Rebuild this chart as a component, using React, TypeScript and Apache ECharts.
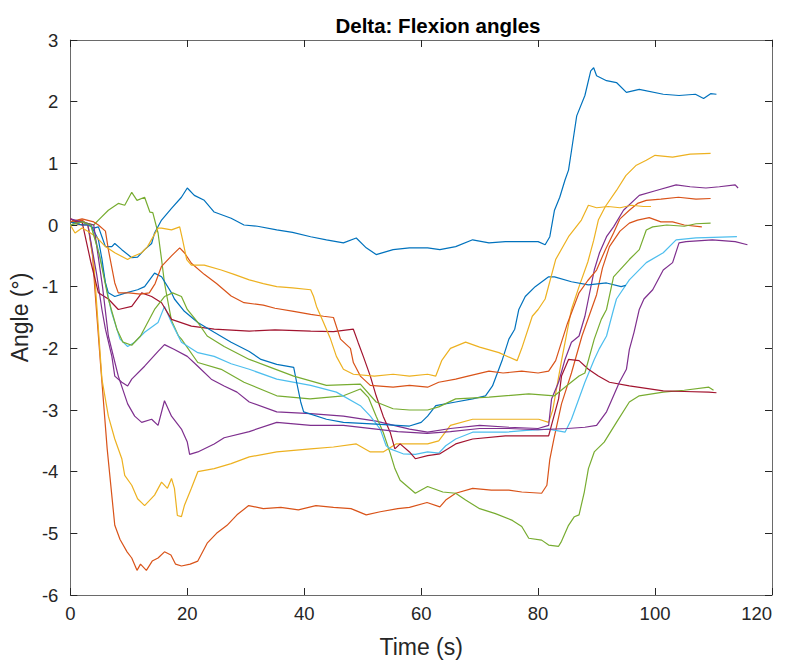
import React, { useEffect, useRef } from "react";
import * as echarts from "echarts";

const titleText = "Delta: Flexion angles";
const xAxisLabel = "Time (s)";
const yAxisLabel = "Angle (°)";
const xMin = 0, xMax = 120, xStep = 20;
const yMin = -6, yMax = 3, yStep = 1;

const blue1: number[][] = [[0,0.05],[1,0.02],[2,0.05],[3,0],[4,-0.05],[4.8,-0.03],[5.4,-0.19],[6,-0.35],[7.1,-0.35],[7.6,-0.3],[8.8,-0.4],[10.5,-0.53],[11.5,-0.52],[12.7,-0.4],[13.9,-0.3],[14.4,-0.13],[15.6,0.08],[17.3,0.27],[19,0.45],[20,0.6],[21.2,0.48],[22.9,0.4],[24.6,0.21],[27.5,0.11],[29.7,0.0],[32,-0.02],[35.3,-0.08],[38,-0.12],[41.1,-0.19],[43.8,-0.24],[46.7,-0.29],[48.9,-0.21],[50.6,-0.37],[52.3,-0.48],[55.2,-0.4],[58,-0.37],[61.1,-0.37],[63.2,-0.4],[65.9,-0.35],[68.8,-0.24],[71.6,-0.29],[74.4,-0.27],[77.2,-0.27],[80,-0.27],[81.2,-0.32],[82,-0.19],[82.8,0.24],[83.7,0.45],[84.6,0.73],[85.2,0.89],[85.7,1.2],[86.6,1.77],[88,2.1],[89,2.5],[89.5,2.55],[90,2.42],[91.7,2.34],[93.4,2.31],[95.1,2.15],[97.3,2.2],[101.4,2.12],[104.1,2.1],[106.9,2.12],[108.3,2.05],[109.5,2.13],[110.5,2.12]];

const orange1: number[][] = [[0,0.1],[1,0.05],[2,0.08],[3,0],[3.8,-0.5],[4.2,-1.05],[5.2,-2.3],[6.3,-3.63],[7.6,-4.87],[8.5,-5.1],[9.7,-5.3],[10.5,-5.4],[11.4,-5.6],[12,-5.5],[13,-5.6],[14,-5.45],[15,-5.4],[16.1,-5.3],[17.2,-5.35],[18,-5.5],[19,-5.53],[20.5,-5.5],[21.8,-5.45],[23.4,-5.16],[25,-5.0],[26.8,-4.87],[28.5,-4.7],[30.5,-4.55],[33,-4.6],[36,-4.58],[39,-4.62],[42,-4.55],[45,-4.58],[48,-4.6],[50.6,-4.7],[53,-4.65],[56,-4.6],[58,-4.58],[61,-4.5],[63.2,-4.57],[64.2,-4.46],[65.9,-4.35],[68.8,-4.27],[72,-4.3],[75,-4.3],[77.2,-4.33],[80.6,-4.35],[81.5,-4.22],[82,-3.8],[82.7,-3.47],[84,-2.9],[85.7,-2.4],[87.5,-1.8],[90,-1.13],[91,-0.7],[92.2,-0.35],[94,-0.1],[95.6,0.03],[97,0.08],[99,0.12],[101,0.05],[103,0.05],[105,0.0],[108,-0.03]];

const yellowB: number[][] = [[0,0.05],[1.5,0],[3,0.02],[4,-0.6],[5.4,-2.5],[6.5,-3.1],[7.6,-3.47],[8.8,-3.79],[9.3,-4.06],[10.5,-4.22],[11.5,-4.44],[12.7,-4.55],[14.4,-4.38],[15.6,-4.17],[16.6,-4.27],[17.3,-4.11],[17.8,-4.27],[18.3,-4.71],[19,-4.73],[19.5,-4.55],[20.7,-4.27],[21.8,-4.0],[24.6,-3.95],[27.5,-3.87],[30.6,-3.76],[35.3,-3.68],[41.1,-3.63],[45,-3.6],[48.9,-3.55],[51.3,-3.68],[53.5,-3.68],[55.7,-3.55],[61.1,-3.55],[63,-3.5],[65,-3.25],[68.8,-3.15],[74.4,-3.15],[80.1,-3.15],[81.8,-3.2],[82.5,-3.0],[84,-2.2],[85.7,-1.37],[87,-1.0],[88.5,-0.6],[89.5,-0.25],[90.3,0.08],[91.5,0.3],[93.4,0.56],[95,0.8],[96.8,0.97],[98.5,1.05],[100,1.13],[103,1.1],[106,1.15],[109.5,1.16]];

const purpleA: number[][] = [[0,0.05],[2,0.0],[3,0.0],[4.5,-0.8],[5.4,-1.37],[6,-1.69],[7.1,-2.13],[7.6,-2.45],[8.8,-2.55],[9.8,-2.61],[10.5,-2.5],[12.7,-2.29],[15,-2.05],[16.1,-1.94],[17.8,-2.02],[20,-2.13],[21.8,-2.29],[24.1,-2.5],[26.3,-2.61],[28.5,-2.71],[30.6,-2.87],[35.3,-3.03],[41.1,-3.06],[46.7,-3.1],[52.3,-3.18],[58,-3.31],[61.1,-3.36],[65,-3.3],[70,-3.25],[75,-3.28],[80,-3.3],[81.8,-3.25],[82.3,-2.82],[83.5,-2.55],[84.6,-2.18],[85.7,-1.9],[87,-1.8],[88,-1.48],[88.6,-1.2],[89.6,-0.73],[90.5,-0.45],[91.7,-0.19],[92.9,-0.03],[94.6,0.24],[97.3,0.48],[100.2,0.56],[103.6,0.65],[106,0.62],[108.7,0.6],[111,0.62],[113.7,0.65],[114.2,0.6]];

const greenA: number[][] = [[0,0.05],[2,0.05],[4,0.0],[4.8,0.08],[6.5,0.24],[8.2,0.35],[9.3,0.32],[10.5,0.53],[11.4,0.4],[12.7,0.45],[13.6,0.21],[14.1,0.2],[15,-0.13],[15.6,-0.56],[16.1,-0.94],[16.6,-1.2],[17.3,-1.55],[18.5,-1.8],[19,-1.85],[21.8,-2.23],[25.8,-2.34],[29.7,-2.55],[35.3,-2.77],[41,-2.82],[46.7,-2.77],[49.6,-2.66],[51,-2.8],[52.3,-3.1],[53.5,-3.36],[54.7,-3.7],[55.5,-3.95],[56.4,-4.14],[58,-4.27],[59,-4.35],[61.1,-4.24],[63.7,-4.33],[65.9,-4.35],[67.6,-4.46],[70,-4.6],[72.7,-4.68],[75.6,-4.79],[77.2,-4.89],[78.4,-5.08],[80.6,-5.11],[81.8,-5.19],[83.5,-5.21],[84,-5.13],[85.2,-4.87],[86.2,-4.73],[87,-4.7],[87.9,-4.33],[88.6,-3.95],[89.6,-3.68],[91.3,-3.52],[93.4,-3.2],[95.6,-2.87],[97.3,-2.77],[101.4,-2.71],[105,-2.68],[109.2,-2.63],[110,-2.68]];

const lightBlue: number[][] = [[0,0.0],[2,0.05],[3.5,0.0],[4.5,-0.3],[5.5,-0.7],[7,-1.4],[8.5,-1.85],[9.8,-1.97],[11,-1.9],[12.7,-1.74],[15,-1.58],[16.1,-1.32],[17.3,-1.58],[19,-1.9],[21.8,-2.07],[24.6,-2.13],[27.5,-2.25],[30.6,-2.34],[35.3,-2.5],[41.1,-2.6],[45.5,-2.71],[49.6,-2.93],[51.3,-3.1],[53,-3.31],[54,-3.58],[54.7,-3.63],[56.9,-3.71],[59,-3.72],[61.1,-3.68],[63,-3.7],[64.2,-3.58],[65.9,-3.47],[68.8,-3.36],[74.4,-3.36],[78,-3.33],[81.8,-3.31],[84.6,-3.36],[85.7,-3.15],[88,-2.55],[89.6,-2.18],[90.5,-2.0],[91.7,-1.8],[92.9,-1.37],[93.4,-1.2],[95.6,-0.89],[98.5,-0.61],[101.4,-0.45],[103.6,-0.24],[107,-0.21],[110,-0.2],[114,-0.19]];

const darkRed: number[][] = [[0,0.1],[1,0.05],[2,0.05],[3.5,-0.6],[4.8,-1.1],[6.5,-1.2],[8.2,-1.37],[10.5,-1.32],[12.2,-1.1],[13.9,-1.16],[15.6,-1.26],[17.3,-1.53],[20.7,-1.64],[24.6,-1.69],[30.6,-1.72],[35,-1.7],[41.1,-1.72],[45,-1.73],[48.4,-1.69],[49.2,-1.9],[50.1,-2.13],[51.3,-2.45],[52.3,-2.77],[53.5,-3.1],[54.7,-3.36],[55.5,-3.63],[56.4,-3.55],[58,-3.68],[59,-3.79],[61.1,-3.74],[63.2,-3.71],[65.9,-3.55],[68.8,-3.47],[74.4,-3.42],[81.8,-3.42],[83.5,-2.82],[84,-2.45],[85.2,-2.18],[87,-2.2],[88.6,-2.34],[90.3,-2.45],[92.2,-2.55],[95.6,-2.61],[101.4,-2.69],[105,-2.7],[109.2,-2.71],[110.5,-2.72]];

const blue2: number[][] = [[0,0.05],[2,0.0],[3.5,0.0],[4.8,-0.24],[5.4,-0.55],[6,-0.94],[6.5,-1.1],[7.6,-1.16],[9.5,-1.1],[11.5,-1.05],[12.7,-1.0],[14.4,-0.78],[15.6,-0.84],[17.3,-1.1],[17.8,-1.2],[19.5,-1.4],[21.8,-1.58],[24.6,-1.74],[27.5,-1.9],[30.6,-2.05],[32.6,-2.18],[35.3,-2.26],[38.2,-2.31],[38.7,-2.55],[39.4,-2.87],[39.9,-3.03],[43.8,-3.15],[46.7,-3.2],[52.3,-3.23],[58,-3.26],[60,-3.2],[61.1,-3.1],[62.5,-2.93],[65.9,-2.87],[68.8,-2.82],[71,-2.77],[72.2,-2.61],[73.9,-2.18],[75,-1.85],[76,-1.69],[76.7,-1.37],[77.8,-1.16],[79.5,-1.0],[81.8,-0.84],[82.8,-0.84],[85.7,-0.92],[88.6,-0.97],[91.7,-0.94],[94.2,-1.0],[95,-0.98]];

const orange2: number[][] = [[0,0.05],[2,0.1],[4,0.05],[4.8,0.0],[6,-0.1],[6.5,-0.4],[7.6,-0.94],[8.2,-1.1],[10,-1.1],[12,-1.12],[13.5,-1.1],[14.5,-0.95],[15.6,-0.67],[17.3,-0.5],[18.7,-0.37],[19.5,-0.45],[20.7,-0.62],[22.9,-0.8],[25,-0.95],[27.5,-1.15],[29.7,-1.26],[33,-1.3],[35,-1.35],[38.2,-1.4],[41.1,-1.45],[43.3,-1.48],[45,-1.5],[46.2,-1.85],[47.9,-2.0],[48.4,-2.23],[49.6,-2.45],[51.3,-2.6],[55.2,-2.63],[58,-2.6],[61.1,-2.63],[63,-2.55],[65.9,-2.5],[68,-2.45],[71.6,-2.37],[74,-2.4],[77.2,-2.37],[80,-2.4],[81.8,-2.37],[83,-2.2],[85,-1.6],[87,-1.1],[88.5,-0.9],[90,-0.73],[91.5,-0.4],[92.9,-0.13],[94,0.1],[95.6,0.24],[97,0.35],[98.5,0.4],[101,0.42],[104,0.45],[107,0.42],[109.5,0.43]];

const yellowA: number[][] = [[0,0],[0.8,-0.13],[2,-0.05],[3,-0.1],[4.5,-0.2],[6,-0.35],[7.6,-0.45],[9.8,-0.56],[10.5,-0.52],[12.2,-0.45],[13.2,-0.35],[15,-0.05],[15.6,-0.05],[17.3,-0.08],[18.7,-0.03],[19.2,-0.24],[19.9,-0.56],[20.7,-0.65],[22.9,-0.65],[25.8,-0.73],[28,-0.8],[30.6,-0.89],[33,-0.95],[35.3,-1.0],[38,-1.02],[41.1,-1.05],[41.6,-1.16],[42.1,-1.32],[43.3,-1.58],[44.5,-1.85],[45.5,-2.13],[46.7,-2.34],[48.4,-2.42],[52,-2.45],[55.2,-2.42],[58,-2.45],[61.1,-2.42],[62.5,-2.45],[63.5,-2.2],[65,-2.0],[67.6,-1.9],[70,-1.98],[73.3,-2.07],[76.4,-2.2],[77.2,-2.0],[79,-1.48],[80,-1.37],[81.2,-1.2],[83,-0.56],[85.2,-0.19],[87.4,0.08],[88.6,0.32],[90,0.28],[92,0.3],[94,0.28],[96,0.32],[98,0.3],[99.3,0.3]];

const purpleB: number[][] = [[0,0.1],[2,0.05],[4,0.0],[5.5,-1.0],[6.5,-1.8],[8.2,-2.45],[9.8,-2.9],[11,-3.1],[12.2,-3.2],[13.9,-3.15],[15,-3.25],[16.1,-2.85],[17.3,-3.1],[19,-3.31],[20,-3.52],[20.4,-3.72],[21.8,-3.68],[24.6,-3.55],[26.3,-3.45],[30.6,-3.35],[35.3,-3.2],[41.1,-3.25],[46.7,-3.25],[52.3,-3.31],[56,-3.35],[61,-3.38],[65,-3.35],[70,-3.3],[75,-3.3],[80,-3.32],[85,-3.3],[88,-3.28],[90,-3.25],[91.7,-3.03],[92.9,-2.77],[93.9,-2.55],[95.1,-2.34],[95.6,-2.02],[96.4,-1.74],[97.3,-1.37],[98.1,-1.2],[99.6,-1.05],[101.4,-0.73],[103,-0.61],[104.1,-0.29],[105.3,-0.27],[109.8,-0.24],[113.7,-0.27],[115.8,-0.32]];

const greenB: number[][] = [[0,0.0],[2,0.05],[3.5,0.0],[5,-0.5],[6.5,-1.2],[8,-1.7],[9,-1.9],[10.5,-1.95],[12,-1.8],[14.4,-1.37],[16.1,-1.16],[17.5,-1.1],[19,-1.16],[20,-1.37],[21.8,-1.58],[23.4,-1.8],[26.3,-1.97],[30.6,-2.18],[34,-2.3],[38.2,-2.45],[43.8,-2.6],[49.6,-2.58],[52.3,-2.87],[55.2,-2.98],[58,-3.0],[61.1,-3.0],[63,-2.95],[65.9,-2.82],[71.6,-2.79],[78.4,-2.74],[82.8,-2.77],[85,-2.6],[87,-2.45],[88,-2.4],[89.6,-1.85],[90.8,-1.53],[91.7,-1.37],[92.9,-0.84],[95.6,-0.56],[97.3,-0.4],[98.5,-0.08],[99.6,-0.03],[102,0.0],[105,-0.02],[107,0.02],[109.5,0.03]];

const seriesData = [blue1, orange1, yellowB, purpleA, greenA, lightBlue, darkRed, blue2, orange2, yellowA, purpleB, greenB];
const palette = ["#0072BD", "#D95319", "#EDB120", "#7E2F8E", "#77AC30", "#4DBEEE", "#A2142F"];

const FONT = "'Liberation Sans', Arial, Helvetica, sans-serif";
const TEXT = "#262626";

export default function App() {
  const ref = useRef<HTMLDivElement>(null);
  useEffect(() => {
    if (!ref.current) return;
    const chart = echarts.init(ref.current, undefined, { renderer: "svg" });
    const axisLine = { onZero: false, lineStyle: { color: "#6a6a6a", width: 1 } };
    const axisTick = { inside: true, length: 7, lineStyle: { color: "#262626", width: 1 } };
    const grid = { left: 70, right: 18, top: 40, bottom: 69 };
    chart.setOption({
      animation: false,
      backgroundColor: "#ffffff",
      title: {
        text: titleText,
        left: 433,
        top: 10,
        textAlign: "center",
        textStyle: { fontFamily: FONT, fontSize: 20.5, fontWeight: "bold", color: "#000" },
      },
      grid,
      xAxis: [
        {
          type: "value", min: xMin, max: xMax, interval: xStep, position: "bottom",
          axisLine, axisTick,
          axisLabel: { color: TEXT, fontSize: 18.5, fontFamily: FONT, margin: 9, alignMaxLabel: "right" },
          splitLine: { show: false },
          name: xAxisLabel, nameLocation: "middle", nameGap: 40,
          nameTextStyle: { color: TEXT, fontSize: 23, fontFamily: FONT },
        },
        {
          type: "value", min: xMin, max: xMax, interval: xStep, position: "top",
          axisLine, axisTick, axisLabel: { show: false }, splitLine: { show: false },
        },
      ],
      yAxis: [
        {
          type: "value", min: yMin, max: yMax, interval: yStep, position: "left",
          axisLine, axisTick,
          axisLabel: { color: TEXT, fontSize: 18.5, fontFamily: FONT, margin: 12 },
          splitLine: { show: false },
          name: yAxisLabel, nameLocation: "middle", nameGap: 32,
          nameTextStyle: { color: TEXT, fontSize: 23, fontFamily: FONT },
        },
        {
          type: "value", min: yMin, max: yMax, interval: yStep, position: "right",
          axisLine, axisTick, axisLabel: { show: false }, splitLine: { show: false },
        },
      ],
      series: seriesData.map((d, i) => ({
        type: "line",
        data: d,
        xAxisIndex: 0,
        yAxisIndex: 0,
        showSymbol: false,
        symbol: "none",
        lineStyle: { color: palette[i % palette.length], width: 1.2 },
        itemStyle: { color: palette[i % palette.length] },
        z: 2 + i,
        silent: true,
      })),
    });
    return () => chart.dispose();
  }, []);
  return (
    <div
      ref={ref}
      style={{ position: "fixed", left: 0, top: 0, width: 790, height: 664, background: "#fff" }}
    />
  );
}
